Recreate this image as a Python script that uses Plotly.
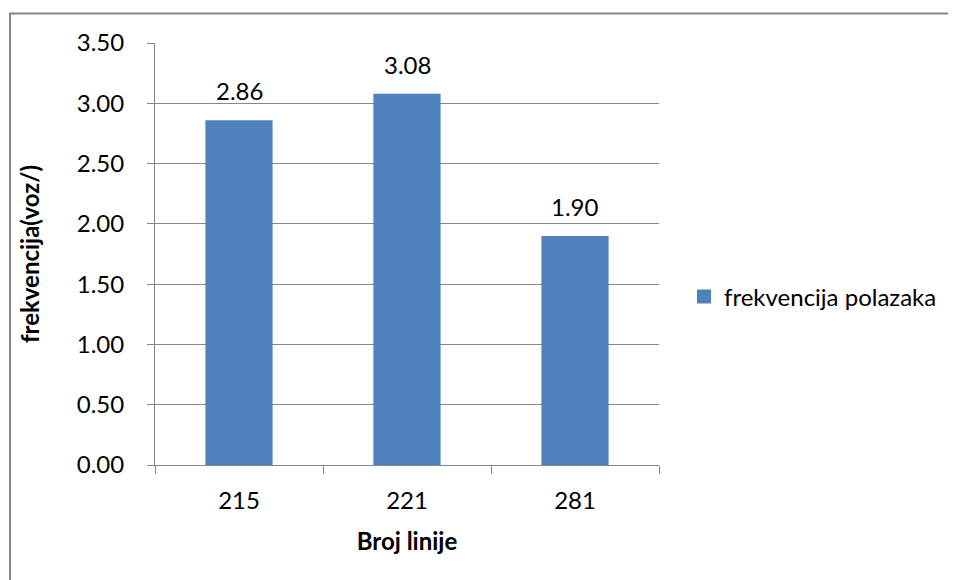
import plotly.graph_objects as go

categories = ["215", "221", "281"]
values = [2.86, 3.08, 1.90]
series_name = "frekvencija polazaka"
y_title = "frekvencija(voz/)"
x_title = "Broj linije"

FONT = "Lato"
FS = 24
BAR_COLOR = "#4F81BD"
W, H = 956, 580
# page has an 8px body margin: figure px = page px - 8
L, T = 147, 35
pw, ph = 504, 422
R, B = W - L - pw, H - T - ph

fig = go.Figure()
fig.add_trace(go.Bar(
    x=categories, y=values, name=series_name,
    marker=dict(color=BAR_COLOR, line=dict(width=0)),
    showlegend=False,
))
# legend entry with a larger square swatch
fig.add_trace(go.Scatter(
    x=[None], y=[None], mode="markers", name=series_name,
    marker=dict(symbol="square", size=14, color=BAR_COLOR),
    showlegend=True,
))

for i, v in enumerate(values):
    fig.add_annotation(x=i, y=v, text=f"{v:.2f}", showarrow=False,
                       yanchor="bottom", yshift=13,
                       font=dict(family=FONT, size=FS, color="#000"))

def px2paper_x(px):
    return (px - L) / pw

def px2paper_y(py):
    return (H - B - py) / ph

fig.add_shape(type="rect", xref="paper", yref="paper",
              x0=px2paper_x(2), x1=px2paper_x(1000),
              y0=px2paper_y(640), y1=px2paper_y(5.5),
              line=dict(color="#868686", width=2), fillcolor="rgba(0,0,0,0)",
              layer="below")

fig.update_layout(
    width=W, height=H,
    margin=dict(l=L, r=R, t=T, b=B, autoexpand=False),
    paper_bgcolor="white", plot_bgcolor="white",
    bargap=0.6,
    font=dict(family=FONT, size=FS, color="#000"),
    legend=dict(x=px2paper_x(676), y=px2paper_y(289), xanchor="left", yanchor="middle",
                font=dict(family=FONT, size=FS), itemwidth=30, bgcolor="rgba(0,0,0,0)"),
    xaxis=dict(
        type="category", range=[-0.5, 2.5], categoryorder="array", categoryarray=categories,
        showline=True, linecolor="#868686", linewidth=1,
        ticks="outside", tickson="boundaries", ticklen=8, tickcolor="#868686",
        ticklabelstandoff=14, tickangle=0, automargin=False,
        title=dict(text=f"<b>{x_title}</b>", font=dict(family=FONT, size=FS), standoff=20),
        showgrid=False,
    ),
    yaxis=dict(
        range=[0, 3.5], dtick=0.5, tickformat=".2f",
        showline=True, linecolor="#868686", linewidth=1,
        ticks="outside", ticklen=7, tickcolor="#868686",
        ticklabelstandoff=18, automargin=False,
        showgrid=True, gridcolor="#868686", gridwidth=1,
        zeroline=False,
        title=dict(text=f"<b>{y_title}</b>", font=dict(family=FONT, size=FS), standoff=30),
    ),
)

fig.write_html("out.html")
